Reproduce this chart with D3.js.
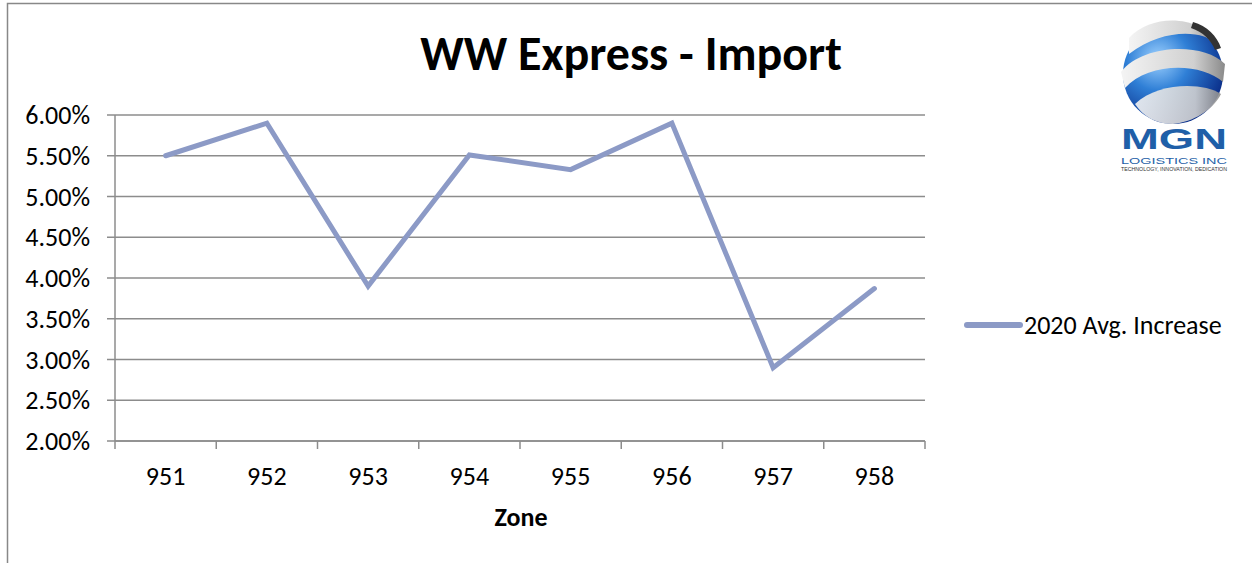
<!DOCTYPE html>
<html>
<head>
<meta charset="utf-8">
<script src="https://cdn.jsdelivr.net/npm/d3@7"></script>
<style>
  body { margin: 0; background: #fff; }
  svg text { font-family: Carlito, Calibri, Lato, sans-serif; fill: #000; }
</style>
</head>
<body>
<div id="chart"></div>
<script>
// chart data
const zones = ['951', '952', '953', '954', '955', '956', '957', '958'];
const avgIncrease = [5.50, 5.90, 3.90, 5.51, 5.33, 5.90, 2.90, 3.87];
const yTicks = [2.0, 2.5, 3.0, 3.5, 4.0, 4.5, 5.0, 5.5, 6.0];
const seriesName = '2020 Avg. Increase';

const width = 1252;
const height = 563;
const plot = { left: 115, right: 925, top: 115, bottom: 441 };
const lineColor = '#8c9ac6';
const gridColor = '#8c8c8c';
const labelSize = '26px';

const svg = d3.select('#chart')
  .append('svg')
  .attr('width', width)
  .attr('height', height);

// chart frame (only top and left edges are visible)
svg.append('path')
  .attr('d', 'M7.5,' + height + 'V3.5H' + width)
  .attr('fill', 'none')
  .attr('stroke', '#888')
  .attr('stroke-width', 1.5);

const x = d3.scaleBand()
  .domain(zones)
  .range([plot.left, plot.right]);

const y = d3.scaleLinear()
  .domain([2, 6])
  .range([plot.bottom, plot.top]);

// horizontal gridlines
svg.append('g')
  .selectAll('line')
  .data(yTicks)
  .enter()
  .append('line')
  .attr('x1', plot.left - 8)
  .attr('x2', plot.right)
  .attr('y1', d => y(d))
  .attr('y2', d => y(d))
  .attr('stroke', gridColor)
  .attr('stroke-width', 1.5);

// y axis line
svg.append('line')
  .attr('x1', plot.left).attr('x2', plot.left)
  .attr('y1', plot.top).attr('y2', plot.bottom + 8)
  .attr('stroke', gridColor)
  .attr('stroke-width', 1.5);

// x axis with ticks between categories
const xAxis = svg.append('g')
  .attr('transform', 'translate(0,' + plot.bottom + ')');
xAxis.append('line')
  .attr('x1', plot.left).attr('x2', plot.right)
  .attr('stroke', gridColor).attr('stroke-width', 1.5);
xAxis.selectAll('line.tick')
  .data(zones)
  .enter()
  .append('line')
  .attr('class', 'tick')
  .attr('x1', d => x(d) + x.bandwidth())
  .attr('x2', d => x(d) + x.bandwidth())
  .attr('y1', 0).attr('y2', 8)
  .attr('stroke', gridColor).attr('stroke-width', 1.5);
xAxis.selectAll('text')
  .data(zones)
  .enter()
  .append('text')
  .attr('x', d => x(d) + x.bandwidth() / 2)
  .attr('y', 44)
  .attr('text-anchor', 'middle')
  .style('font-size', labelSize)
  .text(d => d);

// y labels
svg.append('g')
  .selectAll('text')
  .data(yTicks)
  .enter()
  .append('text')
  .attr('x', 90)
  .attr('y', d => y(d) + 9)
  .attr('text-anchor', 'end')
  .style('font-size', labelSize)
  .text(d => d.toFixed(2) + '%');

// the series line
const line = d3.line()
  .x((d, i) => x(zones[i]) + x.bandwidth() / 2)
  .y(d => y(d));

svg.append('path')
  .datum(avgIncrease)
  .attr('d', line)
  .attr('fill', 'none')
  .attr('stroke', lineColor)
  .attr('stroke-width', 5)
  .attr('stroke-linejoin', 'miter')
  .attr('stroke-linecap', 'round');

// title and axis title
svg.append('text')
  .attr('x', 631)
  .attr('y', 70)
  .attr('text-anchor', 'middle')
  .style('font-size', '48px')
  .style('font-weight', 'bold')
  .text('WW Express - Import');

svg.append('text')
  .attr('x', 521)
  .attr('y', 526)
  .attr('text-anchor', 'middle')
  .style('font-size', labelSize)
  .style('font-weight', 'bold')
  .text('Zone');

// legend
const legend = svg.append('g').attr('transform', 'translate(967,325)');
legend.append('line')
  .attr('x1', 0).attr('x2', 53)
  .attr('stroke', lineColor)
  .attr('stroke-width', 6)
  .attr('stroke-linecap', 'round');
legend.append('text')
  .attr('x', 57)
  .attr('y', 9)
  .style('font-size', labelSize)
  .text(seriesName);

// logo (rough drawing of the globe mark)
const logo = svg.append('g').attr('transform', 'translate(1173,74)');
const defs = svg.append('defs');
const globeGrad = defs.append('radialGradient')
  .attr('id', 'globe').attr('cx', '35%').attr('cy', '35%').attr('r', '70%');
globeGrad.append('stop').attr('offset', '0%').attr('stop-color', '#9fd2ff');
globeGrad.append('stop').attr('offset', '45%').attr('stop-color', '#2f7fd6');
globeGrad.append('stop').attr('offset', '100%').attr('stop-color', '#0b2f8a');
const bandGrad = defs.append('linearGradient')
  .attr('id', 'band').attr('x1', '0%').attr('x2', '100%');
bandGrad.append('stop').attr('offset', '0%').attr('stop-color', '#f4f4f4');
bandGrad.append('stop').attr('offset', '70%').attr('stop-color', '#d0d0d0');
bandGrad.append('stop').attr('offset', '100%').attr('stop-color', '#8a8a8a');

logo.append('circle').attr('r', 50).attr('fill', 'url(#globe)');
logo.append('path')
  .attr('d', 'M-44,-36 C-20,-62 30,-58 44,-30 C30,-44 -10,-46 -44,-20 Z')
  .attr('fill', 'url(#band)');
logo.append('path')
  .attr('d', 'M-52,-2 C-30,-30 30,-32 52,-10 L50,8 C28,-12 -25,-12 -48,14 Z')
  .attr('fill', 'url(#band)');
logo.append('path')
  .attr('d', 'M-38,30 C-15,8 30,8 48,20 C40,36 20,48 0,50 C-18,50 -30,42 -38,30 Z')
  .attr('fill', 'url(#band)')
  .attr('opacity', 0.9);
logo.append('path')
  .attr('d', 'M20,-52 C34,-48 44,-38 48,-26 L42,-24 C38,-34 30,-42 18,-46 Z')
  .attr('fill', '#333');

svg.append('text')
  .attr('x', 1174).attr('y', 149)
  .attr('text-anchor', 'middle')
  .style('font-family', 'Liberation Sans, Arial, sans-serif')
  .style('font-size', '30px')
  .style('font-weight', 'bold')
  .style('fill', '#1f5fa8')
  .attr('textLength', 106)
  .attr('lengthAdjust', 'spacingAndGlyphs')
  .text('MGN');
svg.append('text')
  .attr('x', 1174).attr('y', 164)
  .attr('text-anchor', 'middle')
  .style('font-family', 'Liberation Sans, Arial, sans-serif')
  .style('font-size', '9px')
  .style('fill', '#1f5fa8')
  .attr('textLength', 106)
  .attr('lengthAdjust', 'spacingAndGlyphs')
  .text('LOGISTICS INC');
svg.append('text')
  .attr('x', 1174).attr('y', 171)
  .attr('text-anchor', 'middle')
  .style('font-family', 'Liberation Sans, Arial, sans-serif')
  .style('font-size', '5px')
  .style('fill', '#333')
  .attr('textLength', 106)
  .attr('lengthAdjust', 'spacingAndGlyphs')
  .text('TECHNOLOGY, INNOVATION, DEDICATION');
</script>
</body>
</html>
